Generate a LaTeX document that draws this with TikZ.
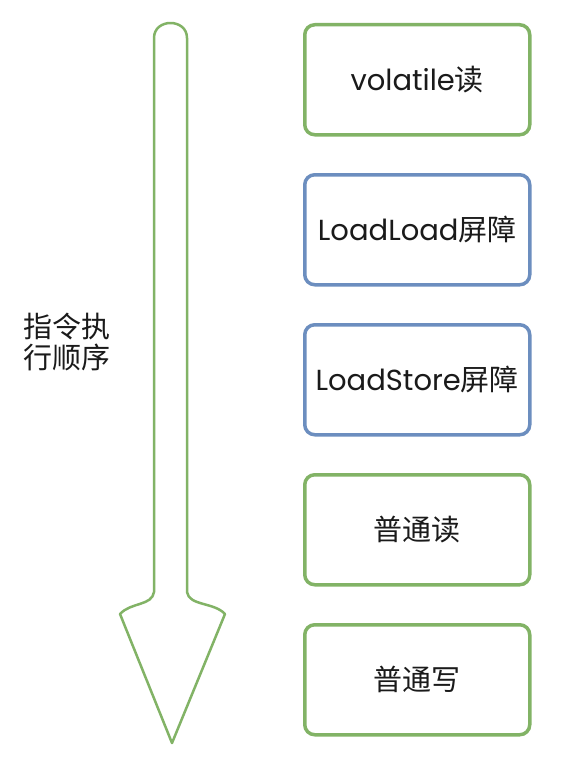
\documentclass[tikz,border=0pt]{standalone}
\usepackage{fontspec}
\setmainfont{Poppins}
\newfontfamily\cjk{Noto Sans CJK SC}
\definecolor{gstroke}{HTML}{82B366}
\definecolor{bstroke}{HTML}{6C8EBF}
\definecolor{txt}{HTML}{1A1A1A}
\tikzset{
  stagebox/.style={draw, line width=3.5pt, rounded corners=10pt, minimum width=225pt,
    minimum height=110pt, inner sep=0pt, anchor=north west, text=txt,
    font=\fontsize{29}{34}\selectfont, fill=white},
  greenbox/.style={stagebox, draw=gstroke},
  bluebox/.style={stagebox, draw=bstroke},
  arrowshape/.style={draw=gstroke, line width=2.5pt, line join=round, fill=white},
}
\begin{document}
\begin{tikzpicture}[x=1pt,y=-1pt]
\useasboundingbox (0,0) rectangle (563,765);
% order arrow
\draw[arrowshape] (154,592) -- (154,38) .. controls (154,18) and (187,18) .. (187,38)
  -- (187,592) .. controls (189,606) and (214,602) .. (225,614) -- (172,743)
  -- (120,614) .. controls (131,602) and (152,606) .. (154,592) -- cycle;
\node[anchor=west, text=txt, font=\cjk\fontsize{29}{31}\selectfont, align=left, inner sep=0pt] (order) at (23,342)
  {指令执\\行顺序};
% boxes
\node[greenbox] (vread) at (303,23) {volatile{\cjk 读}};
\node[bluebox] (ll) at (303,173) {LoadLoad{\cjk 屏障}};
\node[bluebox] (ls) at (303,323) {LoadStore{\cjk 屏障}};
\node[greenbox] (nread) at (303,473) {\cjk 普通读};
\node[greenbox] (nwrite) at (303,623) {\cjk 普通写};
\end{tikzpicture}
\end{document}
